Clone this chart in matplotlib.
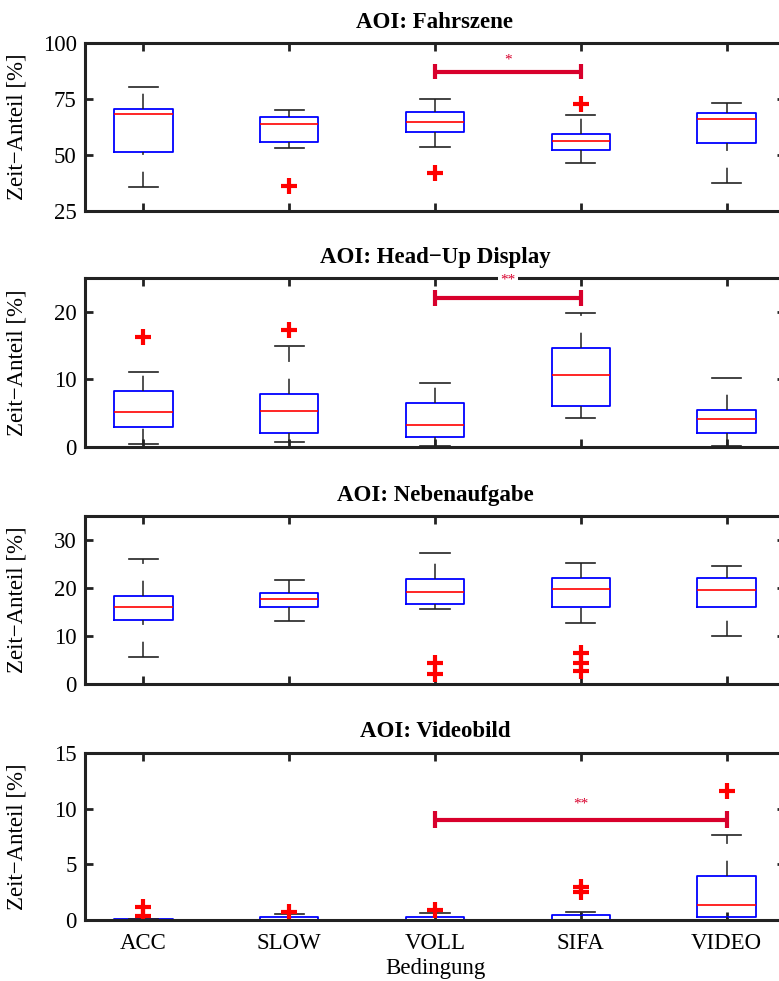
import matplotlib
matplotlib.use("Agg")
import matplotlib.pyplot as plt

plt.rcParams['font.family'] = ['Liberation Serif', 'DejaVu Serif']

conditions = ["ACC", "SLOW", "VOLL", "SIFA", "VIDEO"]

# Fahrszene
fahr_whislo = [35.6, 53.2, 53.5, 46.3, 37.4]
fahr_q1 = [51.1, 55.9, 60.1, 52.3, 55.2]
fahr_med = [68.5, 64.0, 64.9, 56.2, 66.1]
fahr_q3 = [70.7, 67.1, 69.4, 59.3, 68.9]
fahr_whishi = [80.3, 70.1, 75.0, 68.0, 73.4]
fahr_fliers = [[], [36.2], [41.7], [72.6], []]

# Head-Up Display
hud_whislo = [0.45, 0.8, 0.1, 4.3, 0.1]
hud_q1 = [2.9, 2.0, 1.5, 6.1, 2.0]
hud_med = [5.2, 5.3, 3.3, 10.6, 4.1]
hud_q3 = [8.3, 7.9, 6.5, 14.7, 5.5]
hud_whishi = [11.1, 15.0, 9.5, 19.85, 10.2]
hud_fliers = [[16.2], [17.3], [], [], []]

# Nebenaufgabe
neben_whislo = [5.7, 13.2, 15.7, 12.7, 10.1]
neben_q1 = [13.3, 16.0, 16.7, 16.0, 16.1]
neben_med = [16.0, 17.8, 19.3, 19.9, 19.6]
neben_q3 = [18.4, 19.0, 21.9, 22.2, 22.1]
neben_whishi = [26.1, 21.7, 27.4, 25.3, 24.6]
neben_fliers = [[], [], [4.3, 2.0], [6.5, 4.3, 2.8], []]

# Videobild
video_whislo = [0.0, 0.0, 0.0, 0.0, 0.0]
video_q1 = [0.0, 0.0, 0.0, 0.0, 0.3]
video_med = [0.03, 0.05, 0.05, 0.05, 1.37]
video_q3 = [0.15, 0.27, 0.27, 0.5, 3.97]
video_whishi = [0.15, 0.57, 0.63, 0.75, 7.6]
video_fliers = [[1.2, 0.4], [0.7], [0.9], [3.0, 2.5], [11.6]]

panels = [
    ("AOI: Fahrszene", (25, 100), [25, 50, 75, 100],
     (fahr_whislo, fahr_q1, fahr_med, fahr_q3, fahr_whishi, fahr_fliers),
     (3, 4, 87.3, 3.5, "*", 92.3)),
    ("AOI: Head\u2212Up Display", (0, 25), [0, 10, 20],
     (hud_whislo, hud_q1, hud_med, hud_q3, hud_whishi, hud_fliers),
     (3, 4, 22.0, 1.2, "**", 24.7)),
    ("AOI: Nebenaufgabe", (0, 35), [0, 10, 20, 30],
     (neben_whislo, neben_q1, neben_med, neben_q3, neben_whishi, neben_fliers),
     None),
    ("AOI: Videobild", (0, 15), [0, 5, 10, 15],
     (video_whislo, video_q1, video_med, video_q3, video_whishi, video_fliers),
     (3, 5, 9.0, 0.75, "**", 10.4)),
]

W, H = 779, 981
fig = plt.figure(figsize=(W / 100, H / 100), dpi=100)

axes_px = [(43.3, 210.7), (278.0, 447.0), (516.3, 684.0), (752.7, 920.3)]
left_px, right_px = 85.0, 785.0

sig_color = "#d8002c"
spine_color = "#222222"

for i, (title, ylim, yticks, data, sig) in enumerate(panels):
    top, bot = axes_px[i]
    ax = fig.add_axes([left_px / W, 1 - bot / H, (right_px - left_px) / W, (bot - top) / H])
    whislo, q1, med, q3, whishi, fliers = data
    stats = []
    for k in range(len(conditions)):
        stats.append(dict(whislo=whislo[k], q1=q1[k], med=med[k], q3=q3[k],
                          whishi=whishi[k], fliers=fliers[k], label=conditions[k]))
    res = ax.bxp(stats, positions=range(1, 6), widths=0.4, capwidths=0.2,
                 boxprops=dict(color="blue", linewidth=1.3),
                 medianprops=dict(color="red", linewidth=1.2),
                 whiskerprops=dict(color="#222222", linewidth=1.1, linestyle=(0, (10, 11))),
                 capprops=dict(color="#222222", linewidth=1.2),
                 flierprops=dict(marker="+", markeredgecolor="red", markersize=11,
                                 markeredgewidth=3.0, linestyle="none"))
    # lower whiskers drawn from the adjacent value towards the box
    for w in res['whiskers'][::2]:
        x, y = w.get_data()
        w.set_data(list(x)[::-1], list(y)[::-1])

    ax.set_xlim(0.6, 5.4)
    ax.set_ylim(*ylim)
    ax.set_yticks(yticks)
    ax.set_xticks(range(1, 6))
    if i == 3:
        ax.set_xticklabels(conditions, fontsize=16.5)
        ax.set_xlabel("Bedingung", fontsize=16.5, labelpad=3)
    else:
        ax.set_xticklabels([])
    ax.set_ylabel("Zeit\u2212Anteil [%]", fontsize=16.5)
    ax.yaxis.set_label_coords((27 - left_px) / (right_px - left_px), 0.5)
    ax.set_title(title, fontsize=16.5, fontweight="bold", pad=11)
    ax.tick_params(axis="both", direction="in", length=6, width=2,
                   top=True, right=True, labelsize=16.5, color=spine_color)
    ax.tick_params(axis="y", pad=6)
    ax.tick_params(axis="x", pad=9)
    for sp in ax.spines.values():
        sp.set_linewidth(2.2)
        sp.set_color(spine_color)

    if sig is not None:
        x0, x1, ys, capd, stars, ytxt = sig
        ax.plot([x0, x1], [ys, ys], color=sig_color, linewidth=3, solid_capstyle="butt")
        ax.plot([x0, x0], [ys - capd, ys + capd], color=sig_color, linewidth=3, solid_capstyle="butt")
        ax.plot([x1, x1], [ys - capd, ys + capd], color=sig_color, linewidth=3, solid_capstyle="butt")
        bbox = dict(facecolor="white", edgecolor="none", pad=1.5) if stars == "**" and i == 1 else None
        ax.text((x0 + x1) / 2, ytxt, stars, color=sig_color, fontsize=11,
                ha="center", va="center", bbox=bbox, clip_on=False, zorder=5)

fig.savefig("out.png", dpi=100)
